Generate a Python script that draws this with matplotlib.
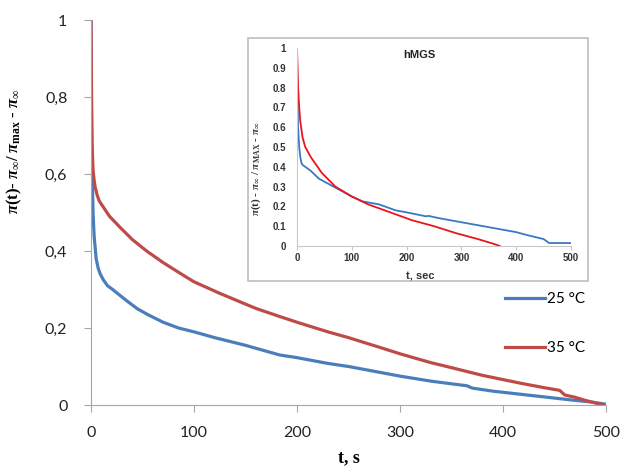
import matplotlib.pyplot as plt
from matplotlib.patches import Rectangle

# curva principal - 25 °C
t_25 = [0, 0.5, 1, 2, 3, 5, 7, 9, 12, 16, 21, 28, 35, 45, 55, 70, 85, 100, 120, 150,
        183, 200, 230, 250, 280, 300, 330, 350, 365, 370, 390, 410, 430, 450, 470, 485, 495, 500]
y_25 = [1.0, 0.75, 0.61, 0.50, 0.44, 0.38, 0.355, 0.34, 0.325, 0.31, 0.30, 0.285, 0.27, 0.25,
        0.235, 0.215, 0.20, 0.19, 0.175, 0.155, 0.13, 0.123, 0.108, 0.10, 0.085, 0.075, 0.062,
        0.055, 0.05, 0.044, 0.036, 0.03, 0.024, 0.018, 0.012, 0.008, 0.004, 0.002]

# curva principal - 35 °C
t_35 = [0, 0.3, 0.6, 1, 2, 3, 4, 6, 8, 12, 18, 28, 40, 54, 70, 86, 100, 125, 150, 161, 183,
        200, 230, 250, 280, 300, 330, 350, 380, 400, 420, 440, 455, 460, 470, 480, 490, 497]
y_35 = [1.0, 0.9, 0.78, 0.68, 0.61, 0.585, 0.566, 0.545, 0.53, 0.514, 0.49, 0.462, 0.43, 0.40,
        0.37, 0.343, 0.32, 0.29, 0.262, 0.25, 0.23, 0.215, 0.19, 0.175, 0.15, 0.133, 0.11,
        0.097, 0.077, 0.066, 0.055, 0.045, 0.038, 0.026, 0.02, 0.012, 0.005, 0.0]

# inset hMGS
t_in_azul = [0, 1, 2, 4, 6, 8, 10, 25, 40, 60, 80, 100, 120, 150, 180, 200, 235, 240, 260,
             300, 340, 380, 400, 420, 450, 460, 500]
y_in_azul = [1.0, 0.75, 0.6, 0.5, 0.45, 0.42, 0.41, 0.38, 0.34, 0.31, 0.28, 0.25, 0.225, 0.21,
             0.18, 0.17, 0.15, 0.152, 0.14, 0.12, 0.10, 0.08, 0.07, 0.055, 0.035, 0.015, 0.015]
t_in_verm = [0, 1, 2, 4, 6, 10, 15, 25, 45, 70, 100, 130, 170, 210, 250, 290, 330, 360, 370]
y_in_verm = [1.0, 0.9, 0.8, 0.7, 0.63, 0.55, 0.5, 0.45, 0.37, 0.30, 0.25, 0.21, 0.17, 0.13,
             0.10, 0.065, 0.035, 0.01, 0.0]

ticks_y = [0, 0.2, 0.4, 0.6, 0.8, 1]
rotulos_y = ['0', '0,2', '0,4', '0,6', '0,8', '1']
ticks_x = [0, 100, 200, 300, 400, 500]
ticks_y_in = [0, 0.1, 0.2, 0.3, 0.4, 0.5, 0.6, 0.7, 0.8, 0.9, 1]
rotulos_y_in = ['0', '0.1', '0.2', '0.3', '0.4', '0.5', '0.6', '0.7', '0.8', '0.9', '1']

plt.rcParams['mathtext.fontset'] = 'custom'
plt.rcParams['mathtext.rm'] = 'Liberation Serif:bold'
plt.rcParams['mathtext.it'] = 'Liberation Serif:bold:italic'
plt.rcParams['mathtext.bf'] = 'Liberation Serif:bold'

fig = plt.figure(figsize=(6.22, 4.69), dpi=100)
cinza = '#a6a6a6'

ax = fig.add_axes([91 / 622, 1 - 405 / 469, 515 / 622, 385 / 469])
ax.plot(t_25, y_25, color='#4a7ebb', lw=2.3, label='25 °C')
ax.plot(t_35, y_35, color='#be4b48', lw=2.3, label='35 °C')
ax.set_xlim(0, 500)
ax.set_ylim(0, 1)
ax.set_xticks(ticks_x)
ax.set_yticks(ticks_y)
ax.set_yticklabels(rotulos_y)
for s in ['top', 'right']:
    ax.spines[s].set_visible(False)
for s in ['left', 'bottom']:
    ax.spines[s].set_color(cinza)
ax.tick_params(axis='both', colors=cinza, length=5, labelcolor='#222222',
               labelsize=11.5, direction='out')
ax.tick_params(axis='x', pad=10)
ax.tick_params(axis='y', pad=12)
for lb in ax.get_xticklabels() + ax.get_yticklabels():
    lb.set_family('Lato')
ax.set_xlabel('t, s', family='Liberation Serif', fontweight='bold', fontsize=13)
ax.xaxis.set_label_coords(0.5, -0.115)
ax.set_ylabel(r'$\pi$(t)- $\pi_{\infty}$/ $\pi_{\rm max}$ - $\pi_{\infty}$',
              family='Liberation Serif', fontweight='bold', fontsize=12)
ax.yaxis.set_label_coords(-0.13, 0.66)
ax.legend(loc='upper left', bbox_to_anchor=(505 / 622, 1 - 292 / 469),
          bbox_transform=fig.transFigure, frameon=False, handlelength=2.6,
          handletextpad=0.15, labelspacing=2.3, borderpad=0, borderaxespad=0,
          prop={'family': 'Lato', 'size': 11})

# moldura do inset
fig.patches.append(Rectangle((248 / 622, 1 - 281 / 469), 340 / 622, 243 / 469,
                             transform=fig.transFigure, facecolor='white',
                             edgecolor='#bfbfbf', lw=1.2, zorder=1))

axi = fig.add_axes([297 / 622, 1 - 246 / 469, 274 / 622, 198 / 469], zorder=2)
axi.plot(t_in_azul, y_in_azul, color='#3b78c3', lw=1.3)
axi.plot(t_in_verm, y_in_verm, color='#e8161c', lw=1.3)
axi.set_xlim(0, 500)
axi.set_ylim(0, 1)
axi.set_xticks(ticks_x)
axi.set_yticks(ticks_y_in)
axi.set_yticklabels(rotulos_y_in)
for s in ['top', 'right']:
    axi.spines[s].set_visible(False)
for s in ['left', 'bottom']:
    axi.spines[s].set_color('#c8c8c8')
axi.tick_params(axis='x', colors='#c8c8c8', length=3, labelcolor='#333333', labelsize=7, pad=2)
axi.tick_params(axis='y', length=0, labelcolor='#333333', labelsize=7, pad=8)
for lb in axi.get_xticklabels() + axi.get_yticklabels():
    lb.set_family('Liberation Sans')
    lb.set_fontweight('bold')
axi.text(224, 0.965, 'hMGS', family='Liberation Sans', fontweight='bold', fontsize=8,
         ha='center', va='center', color='#222222')
axi.set_xlabel('t, sec', family='Liberation Sans', fontweight='bold', fontsize=8,
               color='#333333')
axi.xaxis.set_label_coords(0.45, -0.13)
axi.set_ylabel(r'$\pi$(t) - $\pi_{\infty}$ / $\pi_{\rm MAX}$ - $\pi_{\infty}$',
               family='Liberation Serif', fontweight='bold', fontsize=8, color='#333333')
axi.yaxis.set_label_coords(-0.125, 0.39)

fig.savefig('out.png', dpi=100)
